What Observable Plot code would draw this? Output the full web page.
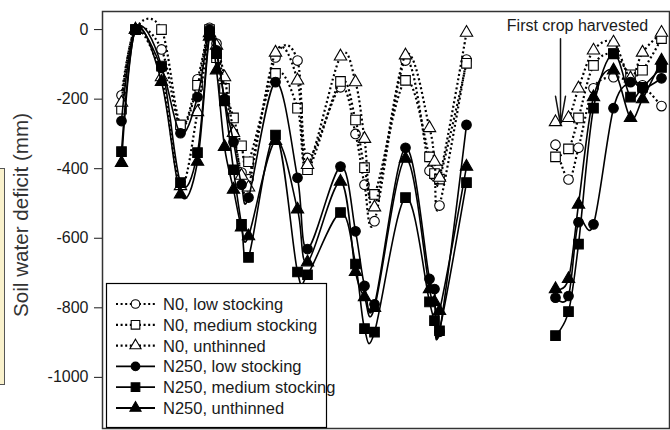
<!DOCTYPE html>
<html><head><meta charset="utf-8">
<script src="https://cdn.jsdelivr.net/npm/d3@7"></script>
<script src="https://cdn.jsdelivr.net/npm/@observablehq/plot@0.6"></script>
<style>
body{margin:0;background:#fff;font-family:"Liberation Sans",Arial,sans-serif;}
#wrap{position:relative;width:670px;height:430px;overflow:hidden;background:#fff;}
#side{position:absolute;left:-10px;top:168px;width:13px;height:215px;background:#f9f1cc;border:1px solid #555;}
#legend{position:absolute;left:0;top:0;pointer-events:none;}
</style></head><body>
<div id="wrap"><div id="side"></div></div>
<script>
// ---- data ----
const seriesNames = ["N0, low stocking","N0, medium stocking","N0, unthinned","N250, low stocking","N250, medium stocking","N250, unthinned"];
const seriesSymbols = ["circle","square","triangle","circle","square","triangle"];
const seriesFilled = [false,false,false,true,true,true];
const yTicks = [0,-200,-400,-600,-800,-1000];
// observation days (arbitrary day units); null value = gap between the two crops
const days = [19,33,59,78,95,107,114,122,131,139,146,173,195,205,238,253,262,272,303,327,332,337,364, 410, 453,466,476,491,511,528,540,559];
const n0Low   = [-189,0,-57,-280,-143,5,-40,-169,-300,-411,-430,-80,-89,-369,-166,-300,-446,-551,-89,-406,-420,-506,-86, null, -331,-431,-340,-169,-137,-150,-160,-220];
const n0Med   = [-229,0,0,-274,-160,0,-81,-169,-254,-334,-380,-126,-226,-403,-149,-260,-397,-474,-146,-366,-414,-430,-97, null, -366,-343,-254,-103,-70,-130,-117,-26];
const n0Unth  = [-210,0,-137,-450,-237,-10,-46,-137,-297,-420,-454,-66,-146,-389,-77,-151,-314,-511,-74,-283,-380,-426,-9, null, -266,-254,-169,-60,-37,-140,-66,-9];
const n250Low = [-263,0,-110,-298,-194,0,-60,-200,-323,-446,-483,-151,-426,-631,-394,-580,-737,-790,-340,-717,-746,-869,-274, null, -771,-766,-554,-560,-226,-151,-170,-140];
const n250Med = [-351,0,-105,-440,-354,-10,-69,-205,-403,-560,-655,-303,-697,-705,-526,-674,-860,-870,-483,-783,-837,-866,-440, null, -880,-811,-617,-226,-69,-194,-166,-109];
const n250Unth= [-383,0,-150,-474,-380,-20,-117,-337,-460,-569,-594,-320,-517,-669,-437,-697,-769,-800,-371,-746,-783,-809,-394, null, -746,-717,-503,-194,-117,-254,-200,-89];
const annotationLabel = "First crop harvested";
const harvestDay = 458, arrowFrom = -26, arrowTo = -273, labelDay = 475, labelValue = 12;

const seriesValues = [n0Low,n0Med,n0Unth,n250Low,n250Med,n250Unth];
const rows = [];
seriesNames.forEach((name,i)=>{
  days.forEach((d,j)=>{
    const v = seriesValues[i][j];
    rows.push({series:name, day:d, value: v==null?NaN:v});
  });
});
const symR = {circle:4.8, square:5.4, triangle:4.6};

const marks = [];
seriesNames.forEach((name,i)=>{
  const data = rows.filter(r=>r.series===name);
  const filled = seriesFilled[i];
  marks.push(Plot.line(data,{x:"day",y:"value",curve:"cardinal",tension:0,stroke:"#000",
    strokeWidth: filled?1.6:2.2, strokeDasharray: filled?null:"2,2.6", strokeLinecap:"butt"}));
  marks.push(Plot.dot(data.filter(r=>!isNaN(r.value)),{x:"day",y:"value",symbol:seriesSymbols[i],
    r:symR[seriesSymbols[i]], fill: filled?"#000":"#fff", stroke:"#000", strokeWidth:1.1}));
});
marks.push(Plot.arrow([{x:harvestDay,y1:arrowFrom,y2:arrowTo}],{x:"x",y1:"y1",y2:"y2",stroke:"#111",strokeWidth:1.5,headLength:37,headAngle:20}));
marks.push(Plot.text([{x:labelDay,y:labelValue,t:annotationLabel}],{x:"x",y:"y",text:"t",fontSize:16,fill:"#1a1a1a",textAnchor:"middle"}));
marks.push(Plot.axisY({ticks:yTicks,tickSize:8,tickPadding:6,tickFormat:d=>String(d),label:null,fontSize:16}));
marks.push(Plot.frame({stroke:"#333",strokeWidth:1.5}));

const chart = Plot.plot({
  width:670, height:430,
  marginLeft:102, marginRight:1, marginTop:11, marginBottom:2,
  x:{domain:[0,567], axis:null},
  y:{domain:[-1147,52]},
  style:{fontFamily:"'Liberation Sans', Arial, sans-serif", color:"#1a1a1a", background:"#fff"},
  marks
});
document.getElementById("wrap").appendChild(chart);

// y-axis title
d3.select(chart).append("text")
  .attr("transform","translate(28,215) rotate(-90)")
  .attr("text-anchor","middle")
  .attr("font-size",20).attr("fill","#333")
  .attr("textLength",204).attr("lengthAdjust","spacingAndGlyphs")
  .text("Soil water deficit (mm)");

// legend
const lg = d3.select("#wrap").append("svg").attr("id","legend").attr("width",670).attr("height",430)
  .style("font-family","'Liberation Sans', Arial, sans-serif");
lg.append("rect").attr("x",106.5).attr("y",283.5).attr("width",220).attr("height",144).attr("fill","#fff").attr("stroke","#000").attr("stroke-width",1.2);
seriesNames.forEach((name,i)=>{
  const y = 304 + i*20.8;
  const filled = seriesFilled[i];
  lg.append("line").attr("x1",116).attr("x2",155).attr("y1",y).attr("y2",y)
    .attr("stroke","#000").attr("stroke-width",filled?1.8:2.2).attr("stroke-dasharray",filled?null:"2,2.6");
  const sym = {circle:d3.symbolCircle,square:d3.symbolSquare,triangle:d3.symbolTriangle}[seriesSymbols[i]];
  const r = symR[seriesSymbols[i]]*0.9;
  lg.append("path").attr("d",d3.symbol(sym, Math.PI*r*r)()).attr("transform",`translate(135.5,${y})`)
    .attr("fill",filled?"#000":"#fff").attr("stroke","#000").attr("stroke-width",1.1);
  lg.append("text").attr("x",163).attr("y",y+6).attr("font-size",16.5).attr("fill","#1a1a1a").text(name);
});
</script>
</body></html>
